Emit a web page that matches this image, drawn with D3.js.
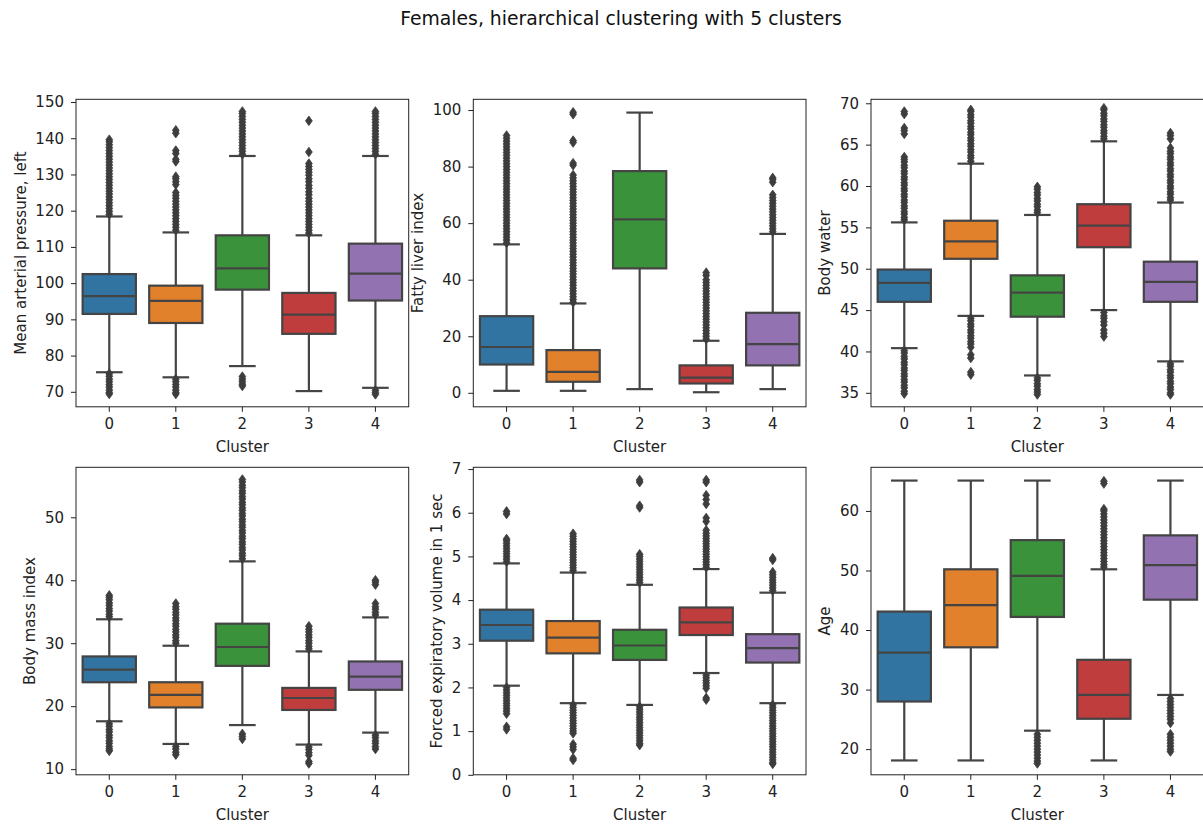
<!DOCTYPE html>
<html>
<head>
<meta charset="utf-8">
<script src="https://cdn.jsdelivr.net/npm/d3@7"></script>
<style>
  html, body { margin: 0; padding: 0; background: #fff; }
  svg { display: block; font-family: "DejaVu Sans", sans-serif; }
</style>
</head>
<body>
<svg id="chart" width="1203" height="828"></svg>
<script>
// ---------------- DATA ----------------
const chartTitle = "Females, hierarchical clustering with 5 clusters";
const categories = ["0", "1", "2", "3", "4"];
const xLabel = "Cluster";
const palette = ["#3274a1", "#e1812c", "#3a923a", "#c03d3e", "#9372b2"];

// five-number summaries per cluster: [lower whisker, Q1, median, Q3, upper whisker]
const mapBoxes = [
  [75.4, 91.5, 96.4, 102.5, 118.4],
  [74.0, 89.0, 95.1, 99.3, 114.0],
  [77.1, 98.2, 104.1, 113.2, 135.1],
  [70.2, 86.0, 91.3, 97.3, 113.2],
  [71.1, 95.2, 102.6, 110.9, 135.1]
];
const mapOutliers = [
  [119.0,119.8,120.6,121.4,122.2,123.0,123.8,124.6,125.4,126.2,127.0,127.8,128.6,129.4,130.2,131.0,131.8,132.6,133.4,134.2,135.0,135.8,136.6,137.4,138.2,139.0,139.6,
   75.0,74.3,73.5,72.8,72.0,71.3,70.5,69.8,69.4],
  [114.6,115.4,116.2,117.0,117.8,118.6,119.4,120.2,121.0,121.8,122.6,123.4,124.2,125.0,127.2,128.0,128.8,129.4,133.6,134.2,135.8,136.6,141.4,142.2,
   73.5,72.8,72.0,71.3,70.5,69.8,69.4],
  [135.6,136.4,137.2,138.0,138.8,139.6,140.4,141.2,142.0,142.8,143.6,144.4,145.2,146.0,146.8,147.4,
   74.2,73.5,72.8,72.1,71.6],
  [113.8,114.6,115.4,116.2,117.0,117.8,118.6,119.4,120.2,121.0,121.8,122.6,123.4,124.4,125.2,126.2,127.0,128.0,128.8,129.8,130.6,131.4,132.2,133.0,136.2,144.8],
  [135.6,136.4,137.2,138.0,138.8,139.6,140.4,141.2,142.0,142.8,143.6,144.4,145.2,146.0,146.8,147.4,
   70.4,69.8,69.3]
];

const fliBoxes = [
  [0.7, 10.0, 16.2, 27.1, 52.5],
  [0.7, 3.9, 7.4, 15.1, 31.6],
  [1.3, 44.0, 61.3, 78.4, 99.1],
  [0.2, 3.3, 5.4, 9.7, 18.4],
  [1.3, 9.7, 17.2, 28.3, 56.2]
];
const fliOutliers = [
  [53,54,55,56,57,58,59,60,61,62,63,64,65,66,67,68,69,70,71,72,73,74,75,76,77,78,79,80,81,82,83,84,85,86,87,88,89,90,91],
  [32,33,34,35,36,37,38,39,40,41,42,43,44,45,46,47,48,49,50,51,52,53,54,55,56,57,58,59,60,61,62,63,64,65,66,67,68,69,70,71,72,73,74,75,76,77,80.5,81.2,88.5,89.2,98.5,99.2],
  [],
  [19,20,21,22,23,24,25,26,27,28,29,30,31,32,33,34,35,36,37,38,39,40,41.5,42.5],
  [57,58,59,60,61,62,63,64,65,66,67,68,69,70,74.5,75.5,76]
];

const waterBoxes = [
  [40.4, 46.0, 48.3, 49.9, 55.6],
  [44.3, 51.2, 53.3, 55.8, 62.7],
  [37.1, 44.2, 47.1, 49.2, 56.5],
  [45.0, 52.6, 55.2, 57.8, 65.4],
  [38.8, 46.0, 48.4, 50.85, 58.0]
];
const waterOutliers = [
  [55.9,56.2,56.6,56.9,57.3,57.6,58.0,58.3,58.7,59.0,59.4,59.7,60.1,60.4,60.8,61.1,61.5,61.8,62.2,62.5,62.9,63.2,63.5,66.3,66.7,67.0,68.7,69.0,
   40.1,39.8,39.4,39.1,38.7,38.4,38.0,37.7,37.3,37.0,36.6,36.3,35.9,35.6,35.2,34.9],
  [63.0,63.4,63.7,64.1,64.4,64.8,65.1,65.5,65.8,66.2,66.5,66.9,67.2,67.6,67.9,68.3,68.6,69.0,69.2,
   44.0,43.7,43.3,43.0,42.6,42.3,41.9,41.6,41.2,40.9,40.5,39.6,39.2,37.5,37.2],
  [56.8,57.1,57.5,57.8,58.2,58.5,58.9,59.2,59.6,59.9,
   36.8,36.5,36.1,35.8,35.4,35.1,34.8],
  [65.7,66.0,66.4,66.7,67.1,67.4,67.8,68.1,68.5,68.8,69.2,69.4,
   44.7,44.3,44.0,43.6,43.2,42.6,42.2,41.8],
  [58.3,58.6,59.0,59.3,59.7,60.0,60.4,60.7,61.1,61.4,61.8,62.1,62.5,62.8,63.2,63.5,63.9,64.2,64.6,65.7,66.1,66.4,
   38.5,38.2,37.8,37.5,37.1,36.8,36.4,36.1,35.7,35.4,35.0,34.8]
];

const bmiBoxes = [
  [17.6, 23.8, 25.8, 27.9, 33.8],
  [14.0, 19.8, 21.8, 23.8, 29.6],
  [17.0, 26.4, 29.4, 33.1, 43.0],
  [13.9, 19.4, 21.3, 22.9, 28.7],
  [15.8, 22.6, 24.7, 27.1, 34.1]
];
const bmiOutliers = [
  [34.2,34.6,35.1,35.5,36.0,36.4,36.9,37.3,37.6,
   17.2,16.8,16.3,15.9,15.4,15.0,14.5,14.1,13.6,13.2,12.9],
  [30.0,30.4,30.9,31.3,31.8,32.2,32.7,33.1,33.6,34.0,34.5,34.9,35.4,35.8,36.3,
   13.6,13.2,12.7,12.3],
  [43.4,43.9,44.3,44.8,45.2,45.7,46.1,46.6,47.0,47.5,47.9,48.4,48.8,49.3,49.7,50.2,50.6,51.1,51.5,52.0,52.4,52.9,53.3,53.8,54.2,54.7,55.1,55.6,56.0,
   15.6,15.2,14.8],
  [29.1,29.5,30.0,30.4,30.9,31.3,31.8,32.2,32.7,
   13.5,13.1,12.6,12.2,11.2,10.9],
  [34.5,34.9,35.4,35.8,36.3,39.3,39.7,40.0,
   15.4,15.0,14.5,14.1,13.6,13.2]
];

const fevBoxes = [
  [2.04, 3.07, 3.43, 3.78, 4.84],
  [1.64, 2.78, 3.14, 3.52, 4.63],
  [1.60, 2.63, 2.96, 3.32, 4.35],
  [2.33, 3.20, 3.49, 3.83, 4.71],
  [1.64, 2.57, 2.90, 3.22, 4.17]
];
const fevOutliers = [
  [4.88,4.94,5.00,5.06,5.12,5.18,5.24,5.30,5.36,5.40,5.97,6.03,
   2.00,1.94,1.88,1.82,1.76,1.70,1.64,1.58,1.52,1.46,1.40,1.10,1.04],
  [4.68,4.74,4.80,4.86,4.92,4.98,5.04,5.10,5.16,5.22,5.28,5.34,5.40,5.46,5.52,
   1.60,1.54,1.48,1.42,1.36,1.30,1.24,1.18,1.12,1.06,1.00,0.95,0.70,0.64,0.58,0.38,0.34],
  [4.40,4.46,4.52,4.58,4.64,4.70,4.76,4.82,4.88,4.94,5.00,5.05,6.12,6.16,6.70,6.75,
   1.56,1.50,1.44,1.38,1.32,1.26,1.20,1.14,1.08,1.02,0.96,0.90,0.84,0.78,0.72,0.68],
  [4.75,4.81,4.87,4.93,4.99,5.05,5.11,5.17,5.23,5.29,5.35,5.41,5.47,5.53,5.60,5.80,5.88,6.20,6.30,6.40,6.70,6.75,
   2.28,2.22,2.16,2.10,2.04,1.98,1.76,1.72],
  [4.22,4.28,4.34,4.40,4.46,4.52,4.58,4.64,4.92,4.96,
   1.60,1.54,1.48,1.42,1.36,1.30,1.24,1.18,1.12,1.06,1.00,0.94,0.88,0.82,0.76,0.70,0.64,0.58,0.52,0.46,0.40,0.34,0.28,0.25]
];

const ageBoxes = [
  [18.1, 28.0, 36.2, 43.1, 65.1],
  [18.1, 37.1, 44.2, 50.2, 65.1],
  [23.1, 42.2, 49.1, 55.1, 65.1],
  [18.1, 25.1, 29.1, 35.0, 50.2],
  [29.1, 45.1, 50.9, 55.9, 65.1]
];
const ageOutliers = [
  [],
  [],
  [22.5,22.0,21.5,21.0,20.5,20.0,19.5,19.0,18.5,18.0,17.6],
  [50.6,51.0,51.5,52.0,52.5,53.0,53.5,54.0,54.5,55.0,55.5,56.0,56.5,57.0,57.5,58.0,58.5,59.0,59.5,60.0,60.3,64.6,65.0],
  [28.5,28.0,27.5,27.0,26.5,26.0,25.5,25.0,24.4,22.5,22.0,21.5,21.0,20.5,20.0,19.6]
];

const yLabels = ["Mean arterial pressure, left", "Fatty liver index", "Body water",
                 "Body mass index", "Forced expiratory volume in 1 sec", "Age"];
const yDomains = [[65.86, 150.75], [-4.95, 103.8], [33.31, 70.48], [9.1, 57.94], [0, 7.04], [15.69, 67.33]];
const yTicks = [
  [70, 80, 90, 100, 110, 120, 130, 140, 150],
  [0, 20, 40, 60, 80, 100],
  [35, 40, 45, 50, 55, 60, 65, 70],
  [10, 20, 30, 40, 50],
  [0, 1, 2, 3, 4, 5, 6, 7],
  [20, 30, 40, 50, 60]
];
const panelBoxes = [mapBoxes, fliBoxes, waterBoxes, bmiBoxes, fevBoxes, ageBoxes];
const panelOutliers = [mapOutliers, fliOutliers, waterOutliers, bmiOutliers, fevOutliers, ageOutliers];

// ---------------- LAYOUT ----------------
const colLefts = [76, 473.3, 871];
const rowTops = [99.3, 467.3];
const axW = 332.7, axH = 307.5;
const lineGray = "#444444";
const lineW = 2.2;
const fontSize = 15;

const svg = d3.select("#chart");

svg.append("text")
  .attr("x", 621).attr("y", 25)
  .attr("text-anchor", "middle")
  .attr("font-size", 18.8)
  .attr("fill", "#111")
  .text(chartTitle);

const diamond = "M0,-4.8L3.4,0L0,4.8L-3.4,0Z";

for (let p = 0; p < 6; p++) {
  const left = colLefts[p % 3], top = rowTops[Math.floor(p / 3)];
  const g = svg.append("g").attr("transform", `translate(${left},${top})`);

  const x = d3.scaleBand().domain(categories).range([0, axW]).padding(0);
  const y = d3.scaleLinear().domain(yDomains[p]).range([axH, 0]);
  const bw = x.bandwidth();
  const boxW = bw * 0.8, capW = bw * 0.4;

  // axes
  const yAxis = g.append("g")
    .call(d3.axisLeft(y).tickValues(yTicks[p]).tickSize(5).tickPadding(7).tickFormat(d3.format("d")));
  const xAxis = g.append("g").attr("transform", `translate(0,${axH})`)
    .call(d3.axisBottom(x).tickSize(5).tickPadding(7));
  [yAxis, xAxis].forEach(a => {
    a.select(".domain").remove();
    a.selectAll(".tick line").attr("stroke", "#222").attr("stroke-width", 1);
    a.selectAll(".tick text").attr("font-size", fontSize).attr("fill", "#222")
      .attr("font-family", "DejaVu Sans, sans-serif");
  });

  const boxes = panelBoxes[p];
  const outs = panelOutliers[p];

  categories.forEach((c, i) => {
    const cx = x(c) + bw / 2;
    const [lw, q1, med, q3, uw] = boxes[i];
    const bg = g.append("g");
    // whiskers
    bg.append("line").attr("x1", cx).attr("x2", cx).attr("y1", y(q3)).attr("y2", y(uw))
      .attr("stroke", lineGray).attr("stroke-width", lineW);
    bg.append("line").attr("x1", cx).attr("x2", cx).attr("y1", y(q1)).attr("y2", y(lw))
      .attr("stroke", lineGray).attr("stroke-width", lineW);
    // caps
    [lw, uw].forEach(v => {
      bg.append("line").attr("x1", cx - capW / 2).attr("x2", cx + capW / 2)
        .attr("y1", y(v)).attr("y2", y(v))
        .attr("stroke", lineGray).attr("stroke-width", lineW);
    });
    // box
    bg.append("rect").attr("x", cx - boxW / 2).attr("width", boxW)
      .attr("y", y(q3)).attr("height", y(q1) - y(q3))
      .attr("fill", palette[i]).attr("stroke", lineGray).attr("stroke-width", lineW);
    // median
    bg.append("line").attr("x1", cx - boxW / 2).attr("x2", cx + boxW / 2)
      .attr("y1", y(med)).attr("y2", y(med))
      .attr("stroke", lineGray).attr("stroke-width", lineW);
    // fliers
    bg.selectAll("path.flier").data(outs[i]).enter().append("path")
      .attr("class", "flier")
      .attr("d", diamond)
      .attr("transform", d => `translate(${cx},${y(d)})`)
      .attr("fill", "#3d3d3d").attr("stroke", "#3d3d3d").attr("stroke-width", 0.8);
  });

  // spines
  g.append("rect").attr("x", 0).attr("y", 0).attr("width", axW).attr("height", axH)
    .attr("fill", "none").attr("stroke", "#222").attr("stroke-width", 1);

  // x label
  g.append("text").attr("x", axW / 2).attr("y", axH + 45)
    .attr("text-anchor", "middle").attr("font-size", fontSize).attr("fill", "#222")
    .text(xLabel);

  // y label placed left of tick labels
  let maxW = 0;
  yAxis.selectAll(".tick text").each(function () {
    maxW = Math.max(maxW, this.getComputedTextLength());
  });
  const lx = -12 - maxW - 6 - 3.5;
  g.append("text")
    .attr("transform", `translate(${lx},${axH / 2}) rotate(-90)`)
    .attr("text-anchor", "middle").attr("font-size", fontSize).attr("fill", "#222")
    .text(yLabels[p]);
}
</script>
</body>
</html>
